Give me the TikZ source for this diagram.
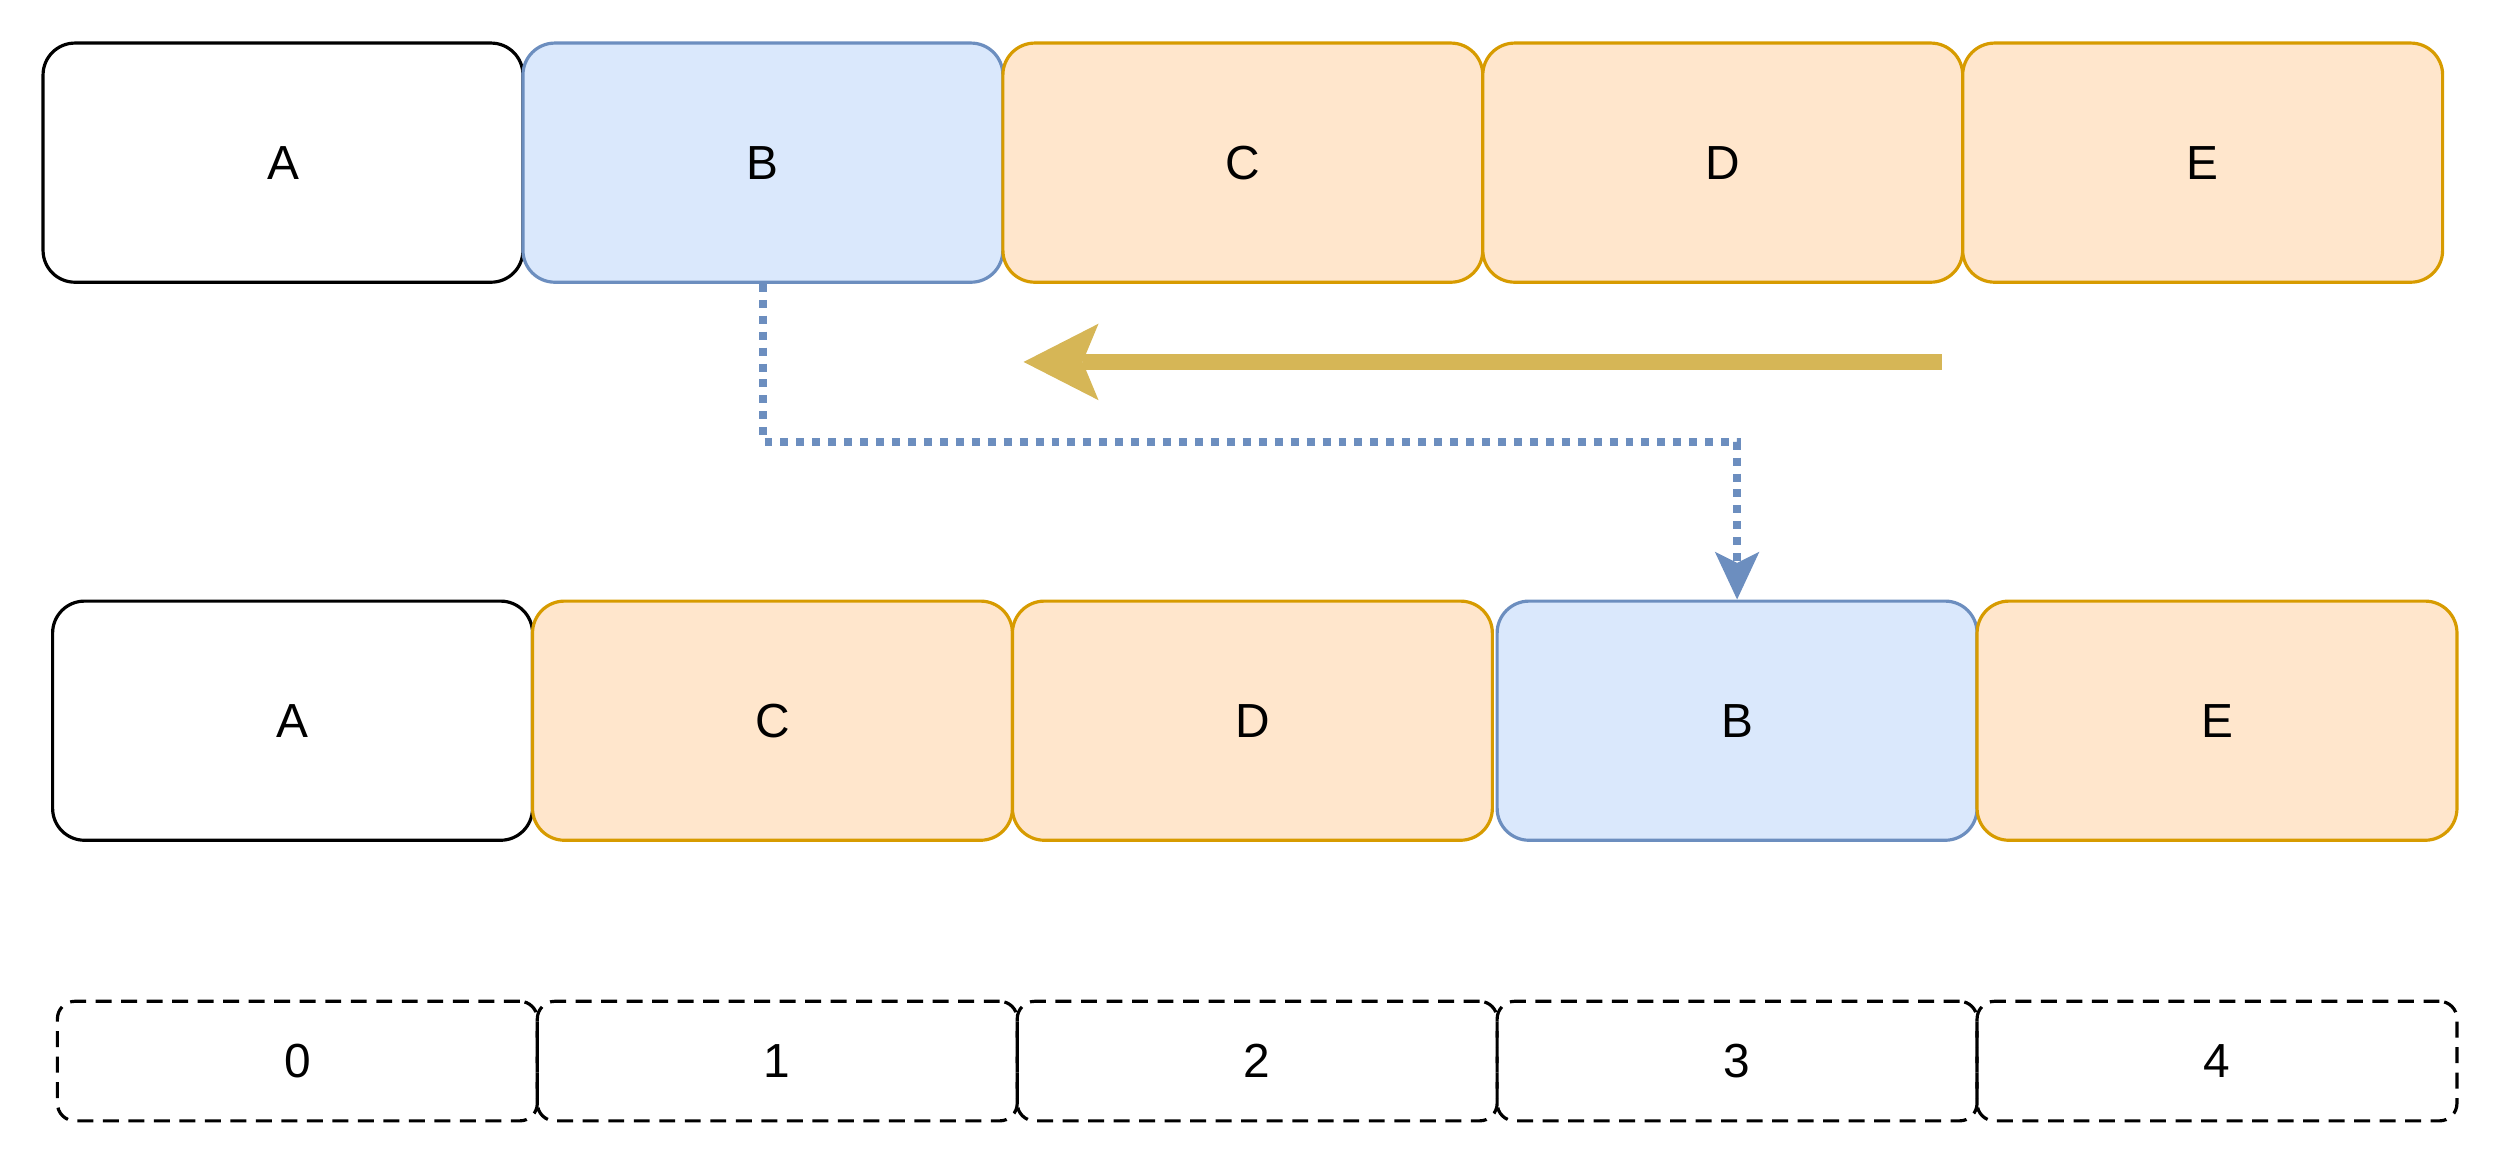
\documentclass[tikz,border=0pt]{standalone}
\usepackage{fontspec}
\setmainfont{Liberation Sans}
\usetikzlibrary{arrows.meta}
\definecolor{bluefill}{HTML}{DAE8FC}
\definecolor{blueline}{HTML}{6C8EBF}
\definecolor{orfill}{HTML}{FFE6CC}
\definecolor{orline}{HTML}{D79B00}
\definecolor{goldline}{HTML}{D6B656}

\begin{document}
\begin{tikzpicture}[x=0.5pt,y=-0.5pt,
  cell/.style={draw,line width=1pt,rounded corners=10pt,minimum width=150.5pt,minimum height=75pt,inner sep=0pt,font=\fontsize{15}{17}\selectfont},
  plain/.style={cell,fill=white},
  moved/.style={cell,draw=blueline,fill=bluefill},
  shifted/.style={cell,draw=orline,fill=orfill},
  slot/.style={cell,dash pattern=on 5pt off 3pt,rounded corners=5.5pt,minimum height=37.5pt}]
\useasboundingbox (0,0) rectangle (1568,730);
% row before the move
\node[plain]   (tA) at (177.5,102) {A};
\node[moved]   (tB) at (478.5,102) {B};
\node[shifted] (tC) at (779.5,102) {C};
\node[shifted] (tD) at (1080.5,102) {D};
\node[shifted] (tE) at (1381.5,102) {E};
% row after the move
\node[plain]   (mA) at (183.5,452) {A};
\node[shifted] (mC) at (484.5,452) {C};
\node[shifted] (mD) at (785.5,452) {D};
\node[moved]   (mB) at (1089.5,452) {B};
\node[shifted] (mE) at (1390.5,452) {E};
% indices
\node[slot] (i0) at (186.5,665.5) {0};
\node[slot] (i1) at (487.5,665.5) {1};
\node[slot] (i2) at (788.5,665.5) {2};
\node[slot] (i3) at (1089.5,665.5) {3};
\node[slot] (i4) at (1390.5,665.5) {4};
% shift to the left
\coordinate (goS) at (1218,227);
\coordinate (goE) at (642,227);
\draw[goldline,line width=5pt,-{Stealth[length=23.5pt,width=24pt,inset=5pt,line width=0pt]}] (goS) -- (goE);
% B jumps to slot 3
\coordinate (bend) at (0,277);
\draw[blueline,line width=2.5pt,dash pattern=on 2.5pt off 2.5pt,-{Stealth[length=15pt,width=14pt,inset=3.5pt,line width=0pt]}]
  (tB.south) -- (tB.south |- bend) -| (mB.north);
\end{tikzpicture}
\end{document}
